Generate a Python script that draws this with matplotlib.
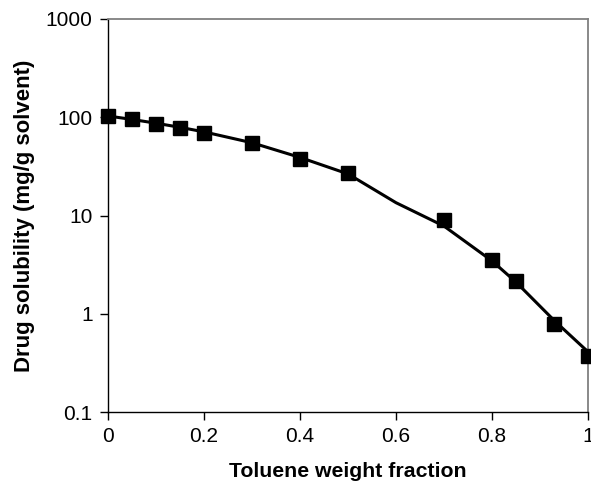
import numpy as np
import matplotlib.pyplot as plt
from matplotlib.ticker import FixedLocator, FixedFormatter, NullLocator

plt.rcParams['font.family'] = ['Liberation Sans', 'DejaVu Sans']

# measured solubility
toluene_frac = [0.0, 0.05, 0.1, 0.15, 0.2, 0.3, 0.4, 0.5, 0.7, 0.8, 0.85, 0.93, 1.0]
solubility = [103, 95, 85, 78, 69, 55, 37.5, 27, 8.9, 3.5, 2.15, 0.79, 0.375]

# model curve
model_frac = [0.0, 0.05, 0.1, 0.15, 0.2, 0.3, 0.4, 0.5, 0.6, 0.7, 0.8, 0.85, 0.93, 1.0]
model_sol = [103, 95, 87, 79, 71, 55, 39, 26.5, 13.5, 7.8, 3.45, 2.1, 0.85, 0.41]

yticks = [0.1, 1, 10, 100, 1000]
ylabels = ['0.1', '1', '10', '100', '1000']
xticks = [0, 0.2, 0.4, 0.6, 0.8, 1.0]
xlabels = ['0', '0.2', '0.4', '0.6', '0.8', '1']

fig = plt.figure(figsize=(5.91, 4.84), dpi=100)
ax = fig.add_axes([108/591, 1-412/484, 480/591, 393/484])

ax.plot(model_frac, model_sol, color='black', lw=2.2, clip_on=False, zorder=2)
ax.plot(toluene_frac, solubility, ls='none', marker='s', ms=10.5,
        color='black', clip_on=False, zorder=3)

ax.set_yscale('log')
ax.set_xlim(0, 1)
ax.set_ylim(0.1, 1000)
ax.yaxis.set_major_locator(FixedLocator(yticks))
ax.yaxis.set_major_formatter(FixedFormatter(ylabels))
ax.yaxis.set_minor_locator(NullLocator())
ax.set_xticks(xticks)
ax.set_xticklabels(xlabels)

ax.tick_params(direction='out', length=6, width=1, labelsize=15, colors='black', pad=5)
for s in ['top', 'right']:
    ax.spines[s].set_color('#808080')
    ax.spines[s].set_linewidth(1.3)
for s in ['left', 'bottom']:
    ax.spines[s].set_linewidth(1)

ax.set_xlabel('Toluene weight fraction', fontsize=15.3, fontweight='bold', labelpad=11)
ax.set_ylabel('Drug solubility (mg/g solvent)', fontsize=16, fontweight='bold', labelpad=8)

fig.savefig('out.png', dpi=100)
